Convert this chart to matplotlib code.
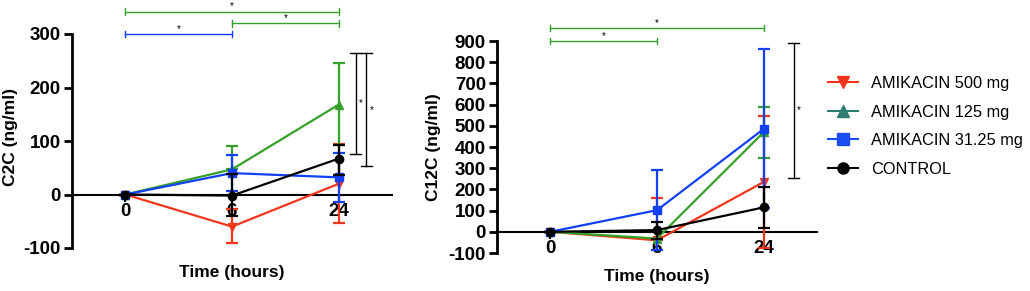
import matplotlib.pyplot as plt
from matplotlib.lines import Line2D

plt.rcParams['font.family'] = ['Liberation Sans', 'DejaVu Sans']
plt.rcParams['axes.unicode_minus'] = False

times = ['0', '6', '24']
groups = ['AMIKACIN 500 mg', 'AMIKACIN 125 mg', 'AMIKACIN 31.25 mg', 'CONTROL']
colors = ['#f2361c', '#35a02a', '#1240f2', '#000000']
legend_colors = ['#f2361c', '#2d7d72', '#1a4cf5', '#000000']
markers = ['v', '^', 's', 'o']

# C2C (ng/ml): mean, lower end, upper end of error bars
c2c_mean = [[0, -60, 20], [0, 47, 168], [0, 40, 32], [0, -2, 67]]
c2c_low = [[0, -90, -54], [0, 47, 92], [0, 6, -14], [0, -40, 37]]
c2c_high = [[0, -28, 95], [0, 91, 245], [0, 73, 78], [0, 38, 93]]

# C12C (ng/ml)
c12c_mean = [[0, -40, 235], [0, -32, 470], [0, 102, 485], [0, 8, 115]]
c12c_low = [[0, -40, -75], [0, -32, 350], [0, -85, 110], [0, -33, 20]]
c12c_high = [[0, 160, 548], [0, -32, 590], [0, 292, 860], [0, 48, 210]]


def setup(ax, ylim, step, ylabel):
    ax.set_xlim(-0.5, 2.5)
    ax.set_ylim(*ylim)
    ax.set_yticks(range(ylim[0], ylim[1] + 1, step))
    ax.set_xticks([0, 1, 2])
    ax.set_xticklabels(times)
    for s in ['top', 'right']:
        ax.spines[s].set_visible(False)
    ax.spines['left'].set_linewidth(2)
    ax.spines['bottom'].set_position(('data', 0))
    ax.spines['bottom'].set_linewidth(1.5)
    ax.tick_params(axis='y', length=6, width=2, labelsize=13.5, pad=2)
    ax.tick_params(axis='x', length=5, width=1.5, labelsize=13.5, pad=1)
    for lab in ax.get_xticklabels() + ax.get_yticklabels():
        lab.set_fontweight('bold')
    ax.set_ylabel(ylabel, fontsize=12.5, fontweight='bold')
    ax.set_xlabel('Time (hours)', fontsize=12.5, fontweight='bold')


def draw(ax, mean, low, high):
    for i in range(len(groups)):
        m = mean[i]
        err = [[m[j] - low[i][j] for j in range(3)],
               [high[i][j] - m[j] for j in range(3)]]
        ax.errorbar([0, 1, 2], m, yerr=err, color=colors[i], marker=markers[i],
                    markersize=6, lw=1.6, elinewidth=1.6, capsize=4, capthick=1.6,
                    zorder=3 + i)


def bracket_h(ax, x0, x1, y, color, cap):
    ax.plot([x0, x1], [y, y], color=color, lw=1, clip_on=False)
    for x in (x0, x1):
        ax.plot([x, x], [y - cap, y + cap], color=color, lw=1, clip_on=False)
    ax.text((x0 + x1) / 2, y, '*', ha='center', va='bottom', fontsize=7,
            clip_on=False)


def bracket_v(ax, x, y0, y1, dx):
    ax.plot([x, x], [y0, y1], color='black', lw=1, clip_on=False)
    for y in (y0, y1):
        ax.plot([x - 0.05, x + 0.05], [y, y], color='black', lw=1, clip_on=False)
    ax.text(x + dx, (y0 + y1) / 2, '*', ha='center', va='center', fontsize=7,
            clip_on=False)


fig = plt.figure(figsize=(10.3, 2.91), dpi=100)

ax1 = fig.add_axes([72 / 1030, 43 / 291, 320 / 1030, 214 / 291])
setup(ax1, (-100, 300), 100, 'C2C (ng/ml)')
draw(ax1, c2c_mean, c2c_low, c2c_high)
ax1.xaxis.set_label_coords(0.5, -0.08)
ax1.yaxis.set_label_coords(-0.17, 0.52)
bracket_h(ax1, 0, 2, 342, '#35a02a', 6)
bracket_h(ax1, 1, 2, 320, '#35a02a', 6)
bracket_h(ax1, 0, 1, 300, '#1240f2', 6)
bracket_v(ax1, 2.16, 76, 264, 0.05)
bracket_v(ax1, 2.26, 53, 264, 0.05)

ax2 = fig.add_axes([497 / 1030, 38 / 291, 320 / 1030, 212 / 291])
setup(ax2, (-100, 900), 100, 'C12C (ng/ml)')
draw(ax2, c12c_mean, c12c_low, c12c_high)
ax2.xaxis.set_label_coords(0.5, -0.075)
ax2.yaxis.set_label_coords(-0.175, 0.5)
bracket_h(ax2, 0, 2, 962, '#35a02a', 14)
bracket_h(ax2, 0, 1, 900, '#35a02a', 14)
bracket_v(ax2, 2.28, 255, 890, 0.05)

handles = [Line2D([], [], color=legend_colors[i], marker=markers[i], markersize=8,
                  lw=1.5) for i in range(len(groups))]
fig.legend(handles, groups, loc='upper left', bbox_to_anchor=(820 / 1030, 1 - 68 / 291),
           frameon=False, fontsize=11.8, handlelength=1.8, handletextpad=0.8,
           labelspacing=0.82, borderpad=0)

fig.savefig('out.png', dpi=100)
